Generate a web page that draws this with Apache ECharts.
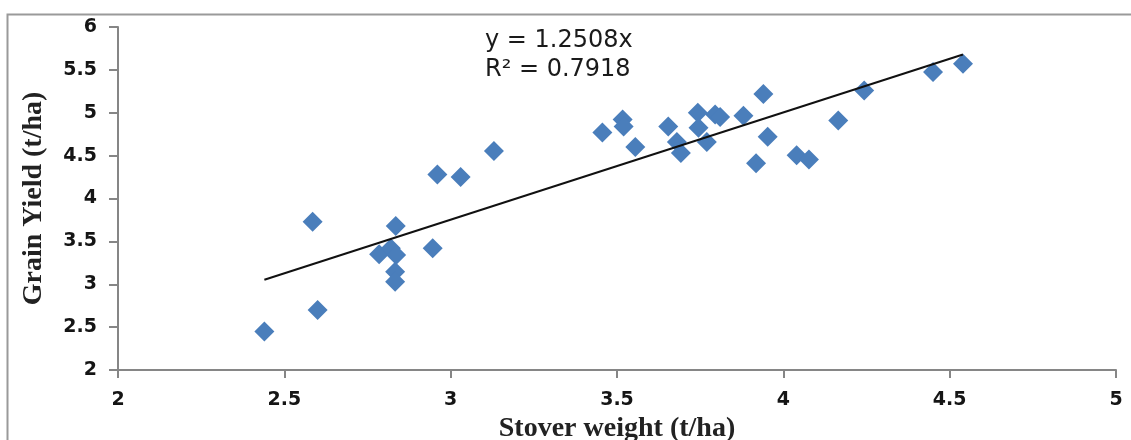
<!DOCTYPE html>
<html>
<head>
<meta charset="utf-8">
<script src="https://cdn.jsdelivr.net/npm/echarts@6/dist/echarts.min.js"></script>
<style>
  html, body { margin: 0; padding: 0; background: #fff; }
  #chart { width: 1131px; height: 440px; }
</style>
</head>
<body>
<div id="chart"></div>
<script>
// Stover weight (t/ha) and grain yield (t/ha) per plot
const stover = [
  2.44, 2.60, 2.585, 2.785, 2.82, 2.835, 2.836, 2.833, 2.833, 2.946,
  2.96, 3.03, 3.13, 3.456, 3.517, 3.52, 3.555, 3.654, 3.68, 3.692,
  3.743, 3.745, 3.77, 3.795, 3.81, 3.88, 3.94, 3.953, 3.918, 4.04,
  4.077, 4.165, 4.243, 4.45, 4.54
];
const grain = [
  2.45, 2.70, 3.73, 3.35, 3.42, 3.68, 3.34, 3.145, 3.03, 3.42,
  4.28, 4.25, 4.555, 4.77, 4.92, 4.84, 4.60, 4.84, 4.66, 4.53,
  5.00, 4.825, 4.66, 4.98, 4.95, 4.965, 5.22, 4.72, 4.41, 4.505,
  4.455, 4.91, 5.26, 5.475, 5.57
];

// Linear trend through the origin
const slope = 1.2508;
const rSquared = 0.7918;
const equationLines = ['y = ' + slope + 'x', 'R\u00B2 = ' + rSquared];

const xTitle = 'Stover weight (t/ha)';
const yTitle = 'Grain Yield (t/ha)';

const points = stover.map((x, i) => [x, grain[i]]);
const xMin = Math.min(...stover);
const xMax = Math.max(...stover);
const trend = [[xMin, slope * xMin], [xMax, slope * xMax]];

const chart = echarts.init(document.getElementById('chart'), null, { renderer: 'canvas' });

const axisLineStyle = { color: '#868686', width: 2 };
const tickFont = { fontFamily: 'DejaVu Sans', fontWeight: 'bold', fontSize: 19, color: '#151515' };
const titleFont = { fontFamily: 'Liberation Serif', fontWeight: 'bold', fontSize: 28, color: '#222' };

chart.setOption({
  animation: false,
  backgroundColor: '#fff',
  grid: { left: 118, right: 15, top: 27, bottom: 70, containLabel: false, outerBoundsMode: 'none' },
  xAxis: {
    type: 'value', min: 2, max: 5, interval: 0.5,
    name: xTitle, nameLocation: 'middle', nameGap: 43,
    nameTextStyle: titleFont,
    axisLine: { show: true, lineStyle: axisLineStyle },
    axisTick: { show: true, length: 8, lineStyle: axisLineStyle },
    axisLabel: Object.assign({ margin: 21 }, tickFont),
    splitLine: { show: false }
  },
  yAxis: {
    type: 'value', min: 2, max: 6, interval: 0.5,
    name: yTitle, nameLocation: 'middle', nameGap: 70, nameRotate: 90,
    nameTextStyle: titleFont,
    axisLine: { show: true, lineStyle: axisLineStyle },
    axisTick: { show: true, length: 9, lineStyle: axisLineStyle },
    axisLabel: Object.assign({ margin: 21 }, tickFont),
    splitLine: { show: false }
  },
  series: [
    {
      type: 'line',
      data: trend,
      symbol: 'none',
      lineStyle: { color: '#111', width: 2 },
      z: 3
    },
    {
      type: 'scatter',
      data: points,
      symbol: 'diamond',
      symbolSize: 20,
      itemStyle: { color: '#4a7ebb', opacity: 1 },
      z: 2
    }
  ],
  graphic: [
    {
      type: 'rect',
      left: 5, top: 12,
      shape: { width: 1140, height: 440 },
      style: { fill: 'none', stroke: '#9a9a9a', lineWidth: 2 },
      silent: true
    },
    {
      type: 'text',
      left: 485, top: 29,
      style: { text: equationLines[0], fontFamily: 'DejaVu Sans', fontSize: 24, fill: '#1a1a1a' }
    },
    {
      type: 'text',
      left: 485, top: 58,
      style: { text: equationLines[1], fontFamily: 'DejaVu Sans', fontSize: 24, fill: '#1a1a1a' }
    }
  ]
});
</script>
</body>
</html>
